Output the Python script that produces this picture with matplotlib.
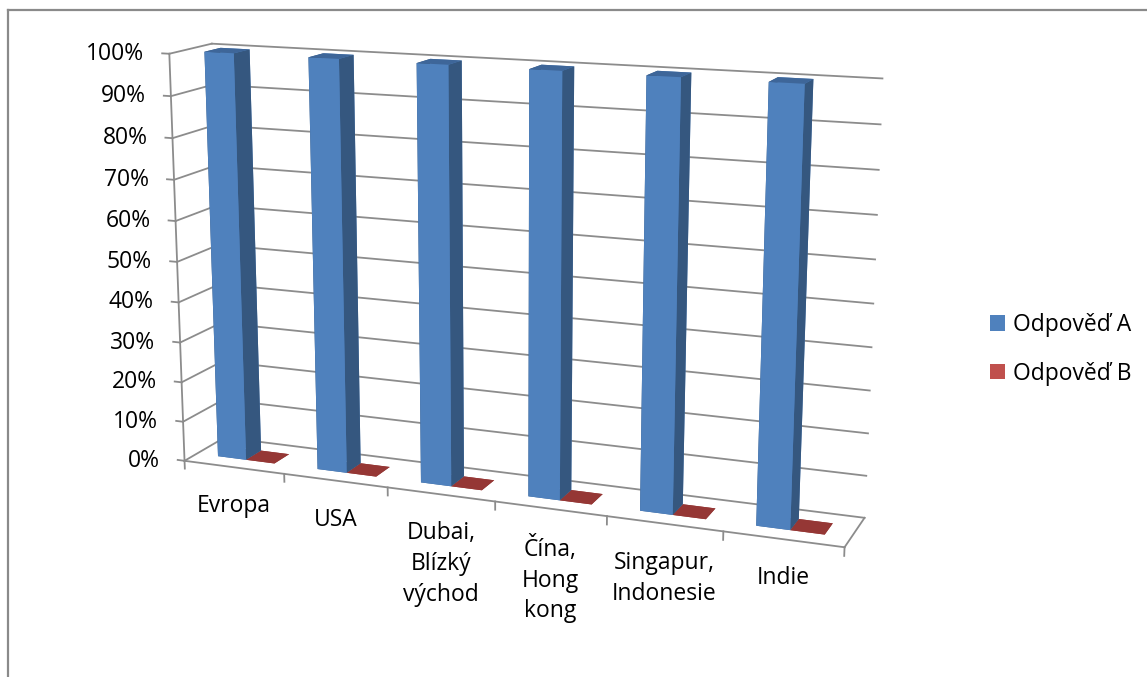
import matplotlib
matplotlib.use("Agg")
import matplotlib.pyplot as plt
from matplotlib.patches import Patch
from matplotlib.lines import Line2D
from mpl_toolkits.mplot3d import proj3d

plt.rcParams['font.family'] = ['Open Sans', 'DejaVu Sans']

# Data
categories = ["Evropa", "USA", "Dubai,\nBlízký\nvýchod", "Čína,\nHong\nkong",
              "Singapur,\nIndonesie", "Indie"]
series_names = ["Odpověď A", "Odpověď B"]
answer_a = [1.0, 1.0, 1.0, 1.0, 1.0, 1.0]
answer_b = [0.0, 0.0, 0.0, 0.0, 0.0, 0.0]
y_ticks = [0.0, 0.1, 0.2, 0.3, 0.4, 0.5, 0.6, 0.7, 0.8, 0.9, 1.0]
y_tick_labels = ["0%", "10%", "20%", "30%", "40%", "50%", "60%", "70%", "80%", "90%", "100%"]

# Styling
BLUE_FRONT, BLUE_SIDE, BLUE_TOP = "#4F81BD", "#35577F", "#3E6699"
RED_FRONT, RED_SIDE, RED_TOP = "#C0504D", "#8C3331", "#953735"
GRID = "#8C8C8C"
FONT_SIZE = 16.5

n = len(categories)
bar_w = 1.0 / 3.5          # gap width 150 %
depth = 0.74               # floor depth in category widths
bar_y0 = (depth - bar_w) / 2

W, H = 1147, 677
fig = plt.figure(figsize=(W / 100, H / 100), dpi=100)

# square 3D panel centred on the plot box
S, cx, cy = 600, 503, 290
ax = fig.add_axes([cx / W - S / W / 2, (H - cy) / H - S / H / 2, S / W, S / H],
                  projection='3d', computed_zorder=False)
ax.set_proj_type('persp', focal_length=0.66)
ax.view_init(elev=13.5, azim=-68.6)
ax.set_xlim(0, n)
ax.set_ylim(0, depth)
ax.set_zlim(0, 1)
ax.set_box_aspect((n, depth, 3.66), zoom=1.357)
ax.set_axis_off()

line_kw = dict(color=GRID, lw=1.3, zorder=1, clip_on=False)

# Walls: gridlines on back and left wall, value ticks
for v in y_ticks:
    ax.plot([0, n], [depth, depth], [v, v], **line_kw)
    ax.plot([0, 0], [0, depth], [v, v], **line_kw)
    ax.plot([-0.07, 0], [0, 0], [v, v], **line_kw)

# Value axis line and floor outline with category ticks
ax.plot([0, 0], [0, 0], [0, 1], **line_kw)
ax.plot([0, n], [0, 0], [0, 0], **line_kw)
ax.plot([n, n], [0, depth], [0, 0], **line_kw)
for k in range(n + 1):
    ax.plot([k, k], [0, 0], [0, -0.02], **line_kw)

# Bars (both series in one collection so faces are depth-sorted together)
xs, ys, zs, dxs, dys, dzs, face_colors = [], [], [], [], [], [], []
for i in range(n):
    for s, (vals, cols) in enumerate([(answer_a, (BLUE_FRONT, BLUE_SIDE, BLUE_TOP)),
                                      (answer_b, (RED_FRONT, RED_SIDE, RED_TOP))]):
        xs.append(i + 0.75 * bar_w + s * bar_w)
        ys.append(bar_y0)
        zs.append(0)
        dxs.append(bar_w)
        dys.append(bar_w)
        dzs.append(vals[i])
        front, side, top = cols
        # face order: -z, +z, -y, +y, -x, +x
        face_colors += [top, top, front, front, side, side]
bars = ax.bar3d(xs, ys, zs, dxs, dys, dzs, color=face_colors, shade=False, zorder=2)
bars.set_clip_on(False)

# Labels are placed as flat figure texts at projected anchor points
fig.canvas.draw()
M = ax.get_proj()
to_fig = fig.transFigure.inverted()


def anchor_px(x, y, z):
    px, py, _ = proj3d.proj_transform(x, y, z, M)
    return ax.transData.transform((px, py))


for v, lab in zip(y_ticks, y_tick_labels):
    X, Y = anchor_px(0, 0, v)
    fx, fy = to_fig.transform((X - 25, Y))
    fig.text(fx, fy, lab, ha='right', va='center', fontsize=FONT_SIZE)

for i, lab in enumerate(categories):
    X, Y = anchor_px(i + 0.5, 0, 0)
    fx, fy = to_fig.transform((X, Y - 27))
    fig.text(fx, fy, lab, ha='center', va='top', fontsize=FONT_SIZE, linespacing=1.38)

# Legend
handles = [Patch(facecolor=BLUE_FRONT, edgecolor='none'),
           Patch(facecolor=RED_FRONT, edgecolor='none')]
fig.legend(handles, series_names, loc='center left', bbox_to_anchor=(0.863, 0.484),
           frameon=False, fontsize=FONT_SIZE, handlelength=0.66, handleheight=0.66,
           handletextpad=0.36, labelspacing=1.07, borderpad=0, borderaxespad=0)

# Chart area border (top and left edges)
fig.add_artist(Line2D([0.007, 1.0], [0.9845, 0.9845], color="#8A8A8A", lw=1.6))
fig.add_artist(Line2D([0.007, 0.007], [0.0, 0.9845], color="#8A8A8A", lw=1.6))

fig.savefig("out.png", dpi=100)
